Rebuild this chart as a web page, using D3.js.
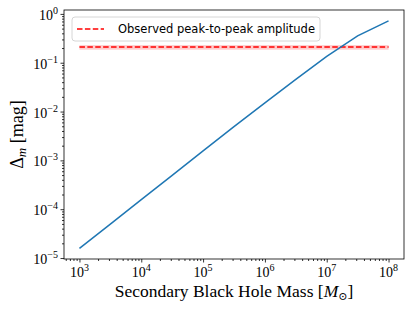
<!DOCTYPE html>
<html>
<head>
<meta charset="utf-8">
<script src="https://cdn.jsdelivr.net/npm/d3@7"></script>
<style>
  body { margin: 0; background: #fff; }
  svg { display: block; }
</style>
</head>
<body>
<div id="chart"></div>
<script>
'use strict';

// secondary black hole mass [Msun] and predicted amplitude [mag]
const masses = [1e3, 3.16e3, 1e4, 3.16e4, 1e5, 3.16e5, 1e6, 3.16e6, 1e7, 3.16e7, 1e8];
const amplitudes = [1.57e-5, 4.95e-5, 1.57e-4, 4.95e-4, 1.57e-3, 4.9e-3, 1.51e-2, 4.57e-2, 0.135, 0.355, 0.72];

// observed peak-to-peak amplitude and its uncertainty band
const observedX = [1e3, 1e8];
const observed = 0.21;
const observedBand = [0.185, 0.23];

const xTickExps = [3, 4, 5, 6, 7, 8];
const yTickExps = [-5, -4, -3, -2, -1, 0];
const legendLabel = 'Observed peak-to-peak amplitude';

const W = 415, H = 311;
const margin = {top: 10, right: 11, bottom: 52, left: 64};
const width = W - margin.left - margin.right,
      height = H - margin.top - margin.bottom;

const svg = d3.select('#chart').append('svg')
    .attr('width', W).attr('height', H);

const g = svg.append('g')
    .attr('transform', `translate(${margin.left},${margin.top})`);

const x = d3.scaleLog()
    .domain([Math.pow(10, 2.75), Math.pow(10, 8.25)])
    .range([0, width]);
const y = d3.scaleLog()
    .domain([Math.pow(10, -5.02), Math.pow(10, 0.08)])
    .range([height, 0]);

const serif = '"Liberation Serif", "DejaVu Serif", serif';

// band + dashed observed line
g.append('rect')
    .attr('x', x(observedX[0]))
    .attr('y', y(observedBand[1]))
    .attr('width', x(observedX[1]) - x(observedX[0]))
    .attr('height', y(observedBand[0]) - y(observedBand[1]))
    .attr('fill', '#ff0000').attr('fill-opacity', 0.2);

g.append('line')
    .attr('x1', x(observedX[0])).attr('x2', x(observedX[1]))
    .attr('y1', y(observed)).attr('y2', y(observed))
    .attr('stroke', '#ff0000').attr('stroke-width', 1.5)
    .attr('stroke-dasharray', '5.5,2.4');

// model curve
const line = d3.line()
    .x((d, i) => x(masses[i]))
    .y(d => y(d));
g.append('path')
    .datum(amplitudes)
    .attr('d', line)
    .attr('fill', 'none')
    .attr('stroke', '#1f77b4')
    .attr('stroke-width', 1.5);

// minor ticks helper
function minorValues(lo, hi) {
    const out = [];
    for (let e = lo; e <= hi; e++) {
        for (let k = 2; k <= 9; k++) out.push(k * Math.pow(10, e));
    }
    return out;
}

const xMinor = minorValues(2, 8).filter(v => v >= x.domain()[0] && v <= x.domain()[1]);
const yMinor = minorValues(-6, 0).filter(v => v >= y.domain()[0] && v <= y.domain()[1]);

// x axis
const xAxis = g.append('g').attr('transform', `translate(0,${height})`);
xAxis.call(d3.axisBottom(x).tickValues(xTickExps.map(e => Math.pow(10, e)))
    .tickSize(3.5).tickFormat(''));
xAxis.append('g').call(d3.axisBottom(x).tickValues(xMinor).tickSize(2).tickFormat(''));
xAxis.selectAll('.domain').remove();
xAxis.selectAll('line').attr('stroke', '#000').attr('stroke-width', 0.8);

xTickExps.forEach(e => {
    const t = g.append('text')
        .attr('x', x(Math.pow(10, e)))
        .attr('y', height + 18)
        .attr('text-anchor', 'middle')
        .attr('font-family', serif)
        .attr('font-size', 14);
    t.append('tspan').text('10');
    t.append('tspan').attr('font-size', 10).attr('dy', -6).text(e < 0 ? '\u2212' + (-e) : e);
});

// y axis
const yAxis = g.append('g');
yAxis.call(d3.axisLeft(y).tickValues(yTickExps.map(e => Math.pow(10, e)))
    .tickSize(3.5).tickFormat(''));
yAxis.append('g').call(d3.axisLeft(y).tickValues(yMinor).tickSize(2).tickFormat(''));
yAxis.selectAll('.domain').remove();
yAxis.selectAll('line').attr('stroke', '#000').attr('stroke-width', 0.8);

yTickExps.forEach(e => {
    const t = g.append('text')
        .attr('x', -6)
        .attr('y', y(Math.pow(10, e)) + 6)
        .attr('text-anchor', 'end')
        .attr('font-family', serif)
        .attr('font-size', 14);
    t.append('tspan').text('10');
    t.append('tspan').attr('font-size', 10).attr('dy', -6).text(e < 0 ? '\u2212' + (-e) : e);
});

// frame
g.append('rect')
    .attr('width', width).attr('height', height)
    .attr('fill', 'none').attr('stroke', '#000').attr('stroke-width', 0.8);

// axis labels
const xl = svg.append('text')
    .attr('x', margin.left + width / 2)
    .attr('y', 297)
    .attr('text-anchor', 'middle')
    .attr('font-family', serif)
    .attr('font-size', 17.5);
xl.append('tspan').text('Secondary Black Hole Mass [');
xl.append('tspan').attr('font-style', 'italic').text('M');
xl.append('tspan').attr('font-size', 11).attr('dy', 3).text('\u2299');
xl.append('tspan').attr('dy', -3).text(']');

const yl = svg.append('text')
    .attr('transform', `translate(23,${margin.top + height / 2}) rotate(-90)`)
    .attr('text-anchor', 'middle')
    .attr('font-family', serif)
    .attr('font-size', 18);
yl.append('tspan').text('\u0394');
yl.append('tspan').attr('font-style', 'italic').attr('font-size', 13).attr('dy', 3).text('m');
yl.append('tspan').attr('dy', -3).text(' [mag]');

// legend
const lg = g.append('g').attr('transform', 'translate(8,7)');
lg.append('rect')
    .attr('width', 248).attr('height', 24)
    .attr('rx', 3)
    .attr('fill', '#fff').attr('fill-opacity', 0.8)
    .attr('stroke', '#cccccc').attr('stroke-width', 0.8);
lg.append('line')
    .attr('x1', 5).attr('x2', 32)
    .attr('y1', 12).attr('y2', 12)
    .attr('stroke', '#ff0000').attr('stroke-width', 1.5)
    .attr('stroke-dasharray', '5.5,2.4');
lg.append('text')
    .attr('x', 46).attr('y', 16)
    .attr('font-family', '"DejaVu Sans", sans-serif')
    .attr('font-size', 11.5)
    .text(legendLabel);
</script>
</body>
</html>
